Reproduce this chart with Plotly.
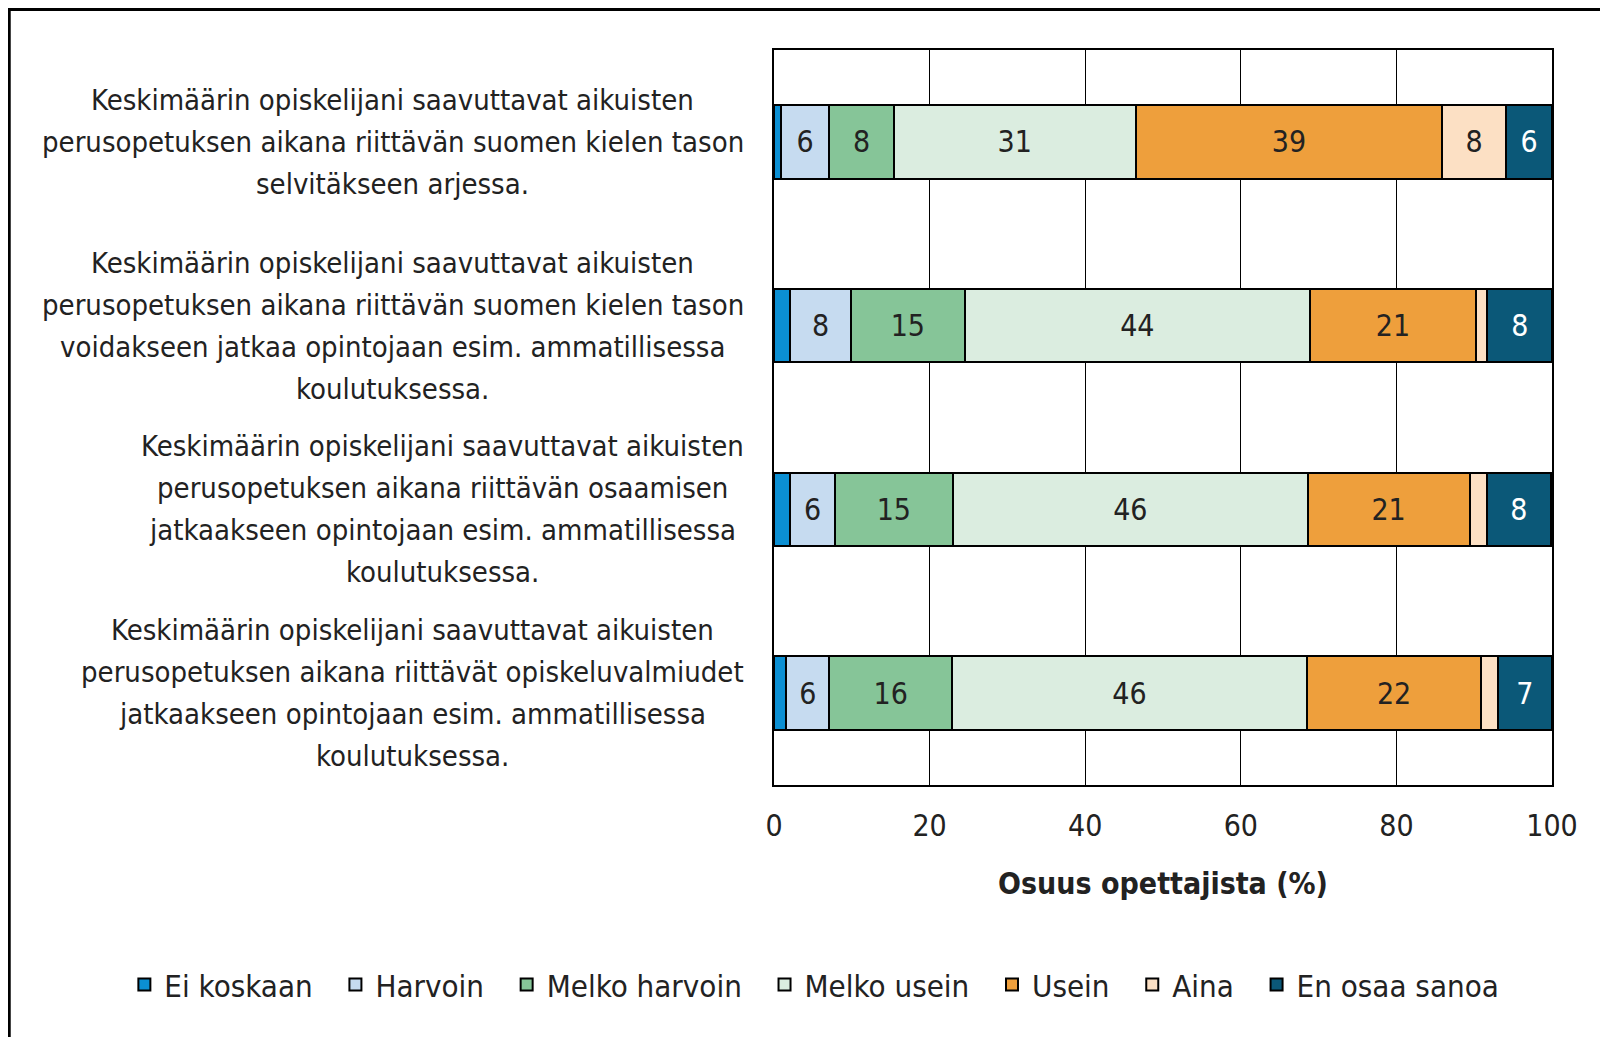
import plotly.graph_objects as go

# Statements (top to bottom), one list entry per printed line
questions = [
    ["Keskimäärin opiskelijani saavuttavat aikuisten",
     "perusopetuksen aikana riittävän suomen kielen tason",
     "selvitäkseen arjessa."],
    ["Keskimäärin opiskelijani saavuttavat aikuisten",
     "perusopetuksen aikana riittävän suomen kielen tason",
     "voidakseen jatkaa opintojaan esim. ammatillisessa",
     "koulutuksessa."],
    ["Keskimäärin opiskelijani saavuttavat aikuisten",
     "perusopetuksen aikana riittävän osaamisen",
     "jatkaakseen opintojaan esim. ammatillisessa",
     "koulutuksessa."],
    ["Keskimäärin opiskelijani saavuttavat aikuisten",
     "perusopetuksen aikana riittävät opiskeluvalmiudet",
     "jatkaakseen opintojaan esim. ammatillisessa",
     "koulutuksessa."],
]
keys = ["q1", "q2", "q3", "q4"]

# Share of teachers (%) per answer option, one value per statement
ei_koskaan = [0.9, 2.1, 2.1, 1.6]
harvoin = [6.2, 7.8, 5.7, 5.5]
melko_harvoin = [8.3, 14.6, 15.2, 15.8]
melko_usein = [31.1, 44.4, 45.6, 45.6]
usein = [39.4, 21.3, 20.8, 22.4]
aina = [8.2, 1.5, 2.2, 2.1]
en_osaa = [5.9, 8.3, 8.3, 7.0]

series = [
    ("Ei koskaan", ei_koskaan, "#0B8FD3", "#222222"),
    ("Harvoin", harvoin, "#C6DBF0", "#222222"),
    ("Melko harvoin", melko_harvoin, "#86C598", "#222222"),
    ("Melko usein", melko_usein, "#DBEDE0", "#222222"),
    ("Usein", usein, "#EE9F3C", "#222222"),
    ("Aina", aina, "#FCE0C4", "#222222"),
    ("En osaa sanoa", en_osaa, "#0B5878", "#FFFFFF"),
]

FONT = "DejaVu Sans Condensed, Liberation Sans Narrow, sans-serif"
LINE_H = 42          # px between label lines
PLOT_L, PLOT_W = 766, 778
PLOT_T, PLOT_H = 42, 735
# horizontal centre (figure px) of each label block, right edge sits near the axis
block_centres = [393, 393, 443, 413]

fig = go.Figure()
for name, vals, color, tcol in series:
    fig.add_trace(go.Bar(
        name=name + "\u00a0\u00a0",
        y=keys,
        x=vals,
        orientation="h",
        width=0.4,
        marker=dict(color=color, line=dict(color="black", width=2)),
        text=[f"{v:.0f}" if v >= 4 else "" for v in vals],
        textposition="inside",
        insidetextanchor="middle",
        textfont=dict(size=30, color=tcol, family=FONT),
        hovertemplate=name + ": %{x}<extra></extra>",
    ))

# Category labels: centred lines stacked around each bar's centre
for key, lines, cx in zip(keys, questions, block_centres):
    n = len(lines)
    for i, line in enumerate(lines):
        fig.add_annotation(
            x=(cx - PLOT_L) / PLOT_W - 0.0107, xref="paper", y=key, yref="y",
            yshift=((n - 1) / 2 - i) * LINE_H,
            text=line, showarrow=False, xanchor="center", yanchor="middle",
            font=dict(size=29, color="#222222", family=FONT),
        )

# outer frame (top edge just inside the page)
fig.add_shape(type="rect", xref="paper", yref="paper",
              x0=-0.983, x1=1.10, y0=-0.50, y1=(PLOT_T + PLOT_H - 1.5) / PLOT_H,
              line=dict(color="black", width=3), fillcolor="rgba(0,0,0,0)",
              layer="below")

fig.update_layout(
    barmode="stack",
    width=1608,
    height=1037,
    margin=dict(l=PLOT_L, r=1608 - PLOT_L - PLOT_W, t=PLOT_T,
                b=1037 - PLOT_T - PLOT_H, autoexpand=False),
    plot_bgcolor="white",
    paper_bgcolor="white",
    font=dict(family=FONT, size=29, color="#222222"),
    xaxis=dict(
        range=[0, 100],
        tickvals=[0, 20, 40, 60, 80, 100],
        showgrid=True, gridcolor="black", gridwidth=1,
        showline=True, linecolor="black", linewidth=2, mirror=True,
        zeroline=False, ticks="",
        ticklabelstandoff=13,
        tickfont=dict(size=30, family=FONT, color="#222222"),
        title=dict(text="<b>Osuus opettajista (%)</b>", font=dict(size=30, family=FONT),
                   standoff=31),
    ),
    yaxis=dict(
        categoryorder="array", categoryarray=keys, autorange="reversed",
        showticklabels=False, showgrid=False,
        showline=True, linecolor="black", linewidth=2, mirror=True,
        ticks="",
    ),
    legend=dict(
        orientation="h", x=-0.835, xanchor="left", y=-0.272, yanchor="middle",
        font=dict(size=31, family=FONT, color="#222222"),
        traceorder="normal",
        bgcolor="rgba(0,0,0,0)",
    ),
    showlegend=True,
)

fig.write_html("out.html")
